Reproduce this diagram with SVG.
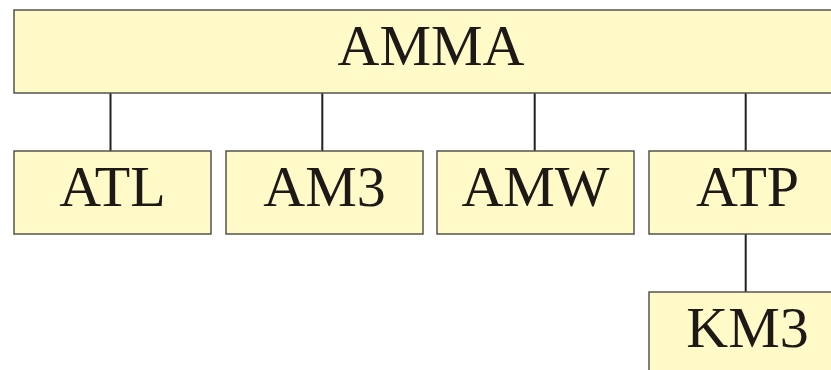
<svg xmlns="http://www.w3.org/2000/svg" width="831" height="370" viewBox="0 0 831 370">
<style>
.box{fill:#fffac8;stroke:#55534c;stroke-width:1.5}
.lbl{font-family:"Liberation Serif","Times New Roman",serif;font-size:58px;fill:#1c1917;text-anchor:middle}
.con{stroke:#231f20;stroke-width:2;fill:none}
</style>
<rect width="831" height="370" fill="#ffffff"/>
<g id="connectors">
<line class="con" x1="110.5" y1="93" x2="110.5" y2="151"/>
<line class="con" x1="322.3" y1="93" x2="322.3" y2="151"/>
<line class="con" x1="534.7" y1="93" x2="534.7" y2="151"/>
<line class="con" x1="745.7" y1="93" x2="745.7" y2="151"/>
<line class="con" x1="745.7" y1="234" x2="745.7" y2="292"/>
</g>
<g id="AMMA">
<rect class="box" x="14" y="10" width="834" height="83"/>
<text class="lbl" x="431" y="65">AMMA</text>
</g>
<g id="ATL">
<rect class="box" x="14" y="151" width="197" height="83"/>
<text class="lbl" x="112.5" y="206">ATL</text>
</g>
<g id="AM3">
<rect class="box" x="226" y="151" width="197" height="83"/>
<text class="lbl" x="324.5" y="206">AM3</text>
</g>
<g id="AMW">
<rect class="box" x="437" y="151" width="197" height="83"/>
<text class="lbl" x="535.5" y="206">AMW</text>
</g>
<g id="ATP">
<rect class="box" x="649" y="151" width="197" height="83"/>
<text class="lbl" x="747.5" y="206">ATP</text>
</g>
<g id="KM3">
<rect class="box" x="649" y="292" width="197" height="83"/>
<text class="lbl" x="747.5" y="347">KM3</text>
</g>
</svg>
